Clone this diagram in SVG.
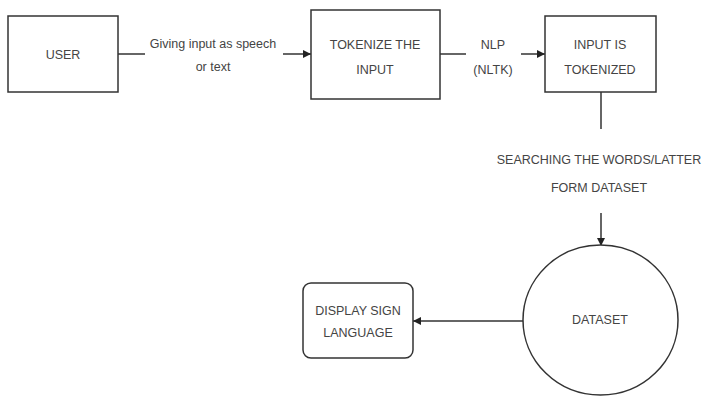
<svg xmlns="http://www.w3.org/2000/svg" width="706" height="400" viewBox="0 0 706 400">
<style>
.box{fill:#fff;stroke:#333;stroke-width:1.5}
.ln{fill:none;stroke:#333;stroke-width:1.5}
text{font-family:"Liberation Sans",Arial,sans-serif;font-size:12.5px;fill:#444;text-anchor:middle}
</style>
<defs>
<marker id="ah" viewBox="0 0 10 10" refX="10" refY="5" markerWidth="8" markerHeight="8" markerUnits="userSpaceOnUse" orient="auto">
<path d="M0,0 L10,5 L0,10 z" fill="#222"/>
</marker>
</defs>
<rect width="706" height="400" fill="#fff"/>
<g id="connectors">
<path class="ln" d="M118,54 H145"/>
<path class="ln" d="M283,54 H311" marker-end="url(#ah)"/>
<text x="213" y="48">Giving input as speech</text>
<text x="213" y="71">or text</text>
<path class="ln" d="M440,54 H466"/>
<path class="ln" d="M521,54 H545" marker-end="url(#ah)"/>
<text x="493" y="49">NLP</text>
<text x="493" y="74">(NLTK)</text>
<path class="ln" d="M601,92 V129"/>
<path class="ln" d="M601,213 V246" marker-end="url(#ah)"/>
<text x="599" y="164">SEARCHING THE WORDS/LATTER</text>
<text x="599" y="192">FORM DATASET</text>
<path class="ln" d="M523,321 H413" marker-end="url(#ah)"/>
</g>
<g id="user">
<rect class="box" x="8" y="16" width="110" height="76"/>
<text x="63" y="59">USER</text>
</g>
<g id="tokenize">
<rect class="box" x="311" y="10" width="129" height="89"/>
<text x="375" y="49">TOKENIZE THE</text>
<text x="375" y="74">INPUT</text>
</g>
<g id="tokenized">
<rect class="box" x="545" y="16" width="111" height="76"/>
<text x="600" y="49">INPUT IS</text>
<text x="600" y="74">TOKENIZED</text>
</g>
<g id="dataset">
<ellipse class="box" cx="600.5" cy="320" rx="77.5" ry="75"/>
<text x="600" y="324">DATASET</text>
</g>
<g id="display">
<rect class="box" x="303" y="283" width="110" height="75" rx="8"/>
<text x="358" y="315">DISPLAY SIGN</text>
<text x="358" y="337">LANGUAGE</text>
</g>
</svg>
